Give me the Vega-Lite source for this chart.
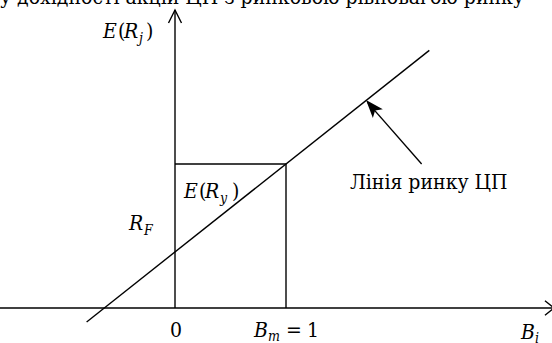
{
  "$schema": "https://vega.github.io/schema/vega-lite/v6.json",
  "width": 552,
  "height": 343,
  "autosize": {"type": "none"},
  "padding": 0,
  "background": "white",
  "config": {"view": {"stroke": null}},
  "datasets": {
    "lines": [
      {"x": -1.5766, "y": 0, "x2": 3.43, "y2": 0},
      {"x": 0, "y": 0, "x2": 0, "y2": 2.0694},
      {"x": -0.796, "y": -0.097, "x2": 2.291, "y2": 1.789},
      {"x": 0, "y": 1, "x2": 1, "y2": 1},
      {"x": 1, "y": 0, "x2": 1, "y2": 1},
      {"x": 2.222, "y": 1.0, "x2": 1.735, "y2": 1.428}
    ],
    "openUp": [{"x": 0, "y": 2.0694}],
    "openRight": [{"x": 3.414, "y": 0}],
    "head": [{"x": 1.721, "y": 1.444}],
    "italic": [
      {"x": -0.6486, "y": 1.875, "t": "E"},
      {"x": -0.4595, "y": 1.875, "t": "R"},
      {"x": 0.0811, "y": 0.7639, "t": "E"},
      {"x": 0.2703, "y": 0.7639, "t": "R"},
      {"x": -0.4144, "y": 0.5417, "t": "R"},
      {"x": 0.7117, "y": -0.2014, "t": "B"},
      {"x": 3.1171, "y": -0.2153, "t": "B"}
    ],
    "regular": [
      {"x": -0.5135, "y": 1.875, "t": "("},
      {"x": -0.2613, "y": 1.875, "t": ")"},
      {"x": 0.2162, "y": 0.7639, "t": "("},
      {"x": 0.5135, "y": 0.7639, "t": ")"},
      {"x": -0.045, "y": -0.2014, "t": "0"},
      {"x": 1.0, "y": -0.2014, "t": "="},
      {"x": 1.1892, "y": -0.2014, "t": "1"},
      {"x": 1.5766, "y": 0.8264, "t": "Лінія ринку ЦП"},
      {"x": -1.5766, "y": 2.1111, "t": "у дохідності акцій ЦП з ринковою рівновагою ринку"}
    ],
    "sub": [
      {"x": -0.3243, "y": 1.8403, "t": "j"},
      {"x": 0.4054, "y": 0.7292, "t": "y"},
      {"x": -0.2793, "y": 0.5069, "t": "F"},
      {"x": 0.8378, "y": -0.2292, "t": "m"},
      {"x": 3.2432, "y": -0.2431, "t": "i"}
    ]
  },
  "encoding": {
    "x": {"field": "x", "type": "quantitative", "scale": {"domain": [-1.5766, 3.3964], "nice": false, "zero": false}, "axis": null},
    "y": {"field": "y", "type": "quantitative", "scale": {"domain": [-0.2431, 2.1389], "nice": false, "zero": false}, "axis": null}
  },
  "layer": [
    {
      "data": {"name": "lines"},
      "mark": {"type": "rule", "color": "black", "strokeWidth": 1.4},
      "encoding": {
        "x2": {"field": "x2"},
        "y2": {"field": "y2"}
      }
    },
    {
      "data": {"name": "openUp"},
      "mark": {"type": "point", "shape": "M-0.5,1L0,0L0.5,1", "filled": false, "color": "black", "strokeWidth": 1.4, "size": 676, "opacity": 1}
    },
    {
      "data": {"name": "openRight"},
      "mark": {"type": "point", "shape": "M-1,-0.8L0,0L-1,0.8", "filled": false, "color": "black", "strokeWidth": 1.4, "size": 324, "opacity": 1}
    },
    {
      "data": {"name": "head"},
      "mark": {"type": "point", "shape": "M0,0L0.55,1.5L0,1.15L-0.55,1.5Z", "filled": true, "color": "black", "size": 576, "angle": 319, "opacity": 1}
    },
    {
      "data": {"name": "italic"},
      "mark": {"type": "text", "font": "DejaVu Serif Condensed", "fontStyle": "italic", "fontSize": 21, "align": "left", "baseline": "alphabetic", "color": "black"},
      "encoding": {"text": {"field": "t"}}
    },
    {
      "data": {"name": "regular"},
      "mark": {"type": "text", "font": "DejaVu Serif Condensed", "fontSize": 21, "align": "left", "baseline": "alphabetic", "color": "black"},
      "encoding": {"text": {"field": "t"}}
    },
    {
      "data": {"name": "sub"},
      "mark": {"type": "text", "font": "DejaVu Serif Condensed", "fontStyle": "italic", "fontSize": 14, "align": "left", "baseline": "alphabetic", "color": "black"},
      "encoding": {"text": {"field": "t"}}
    }
  ]
}
